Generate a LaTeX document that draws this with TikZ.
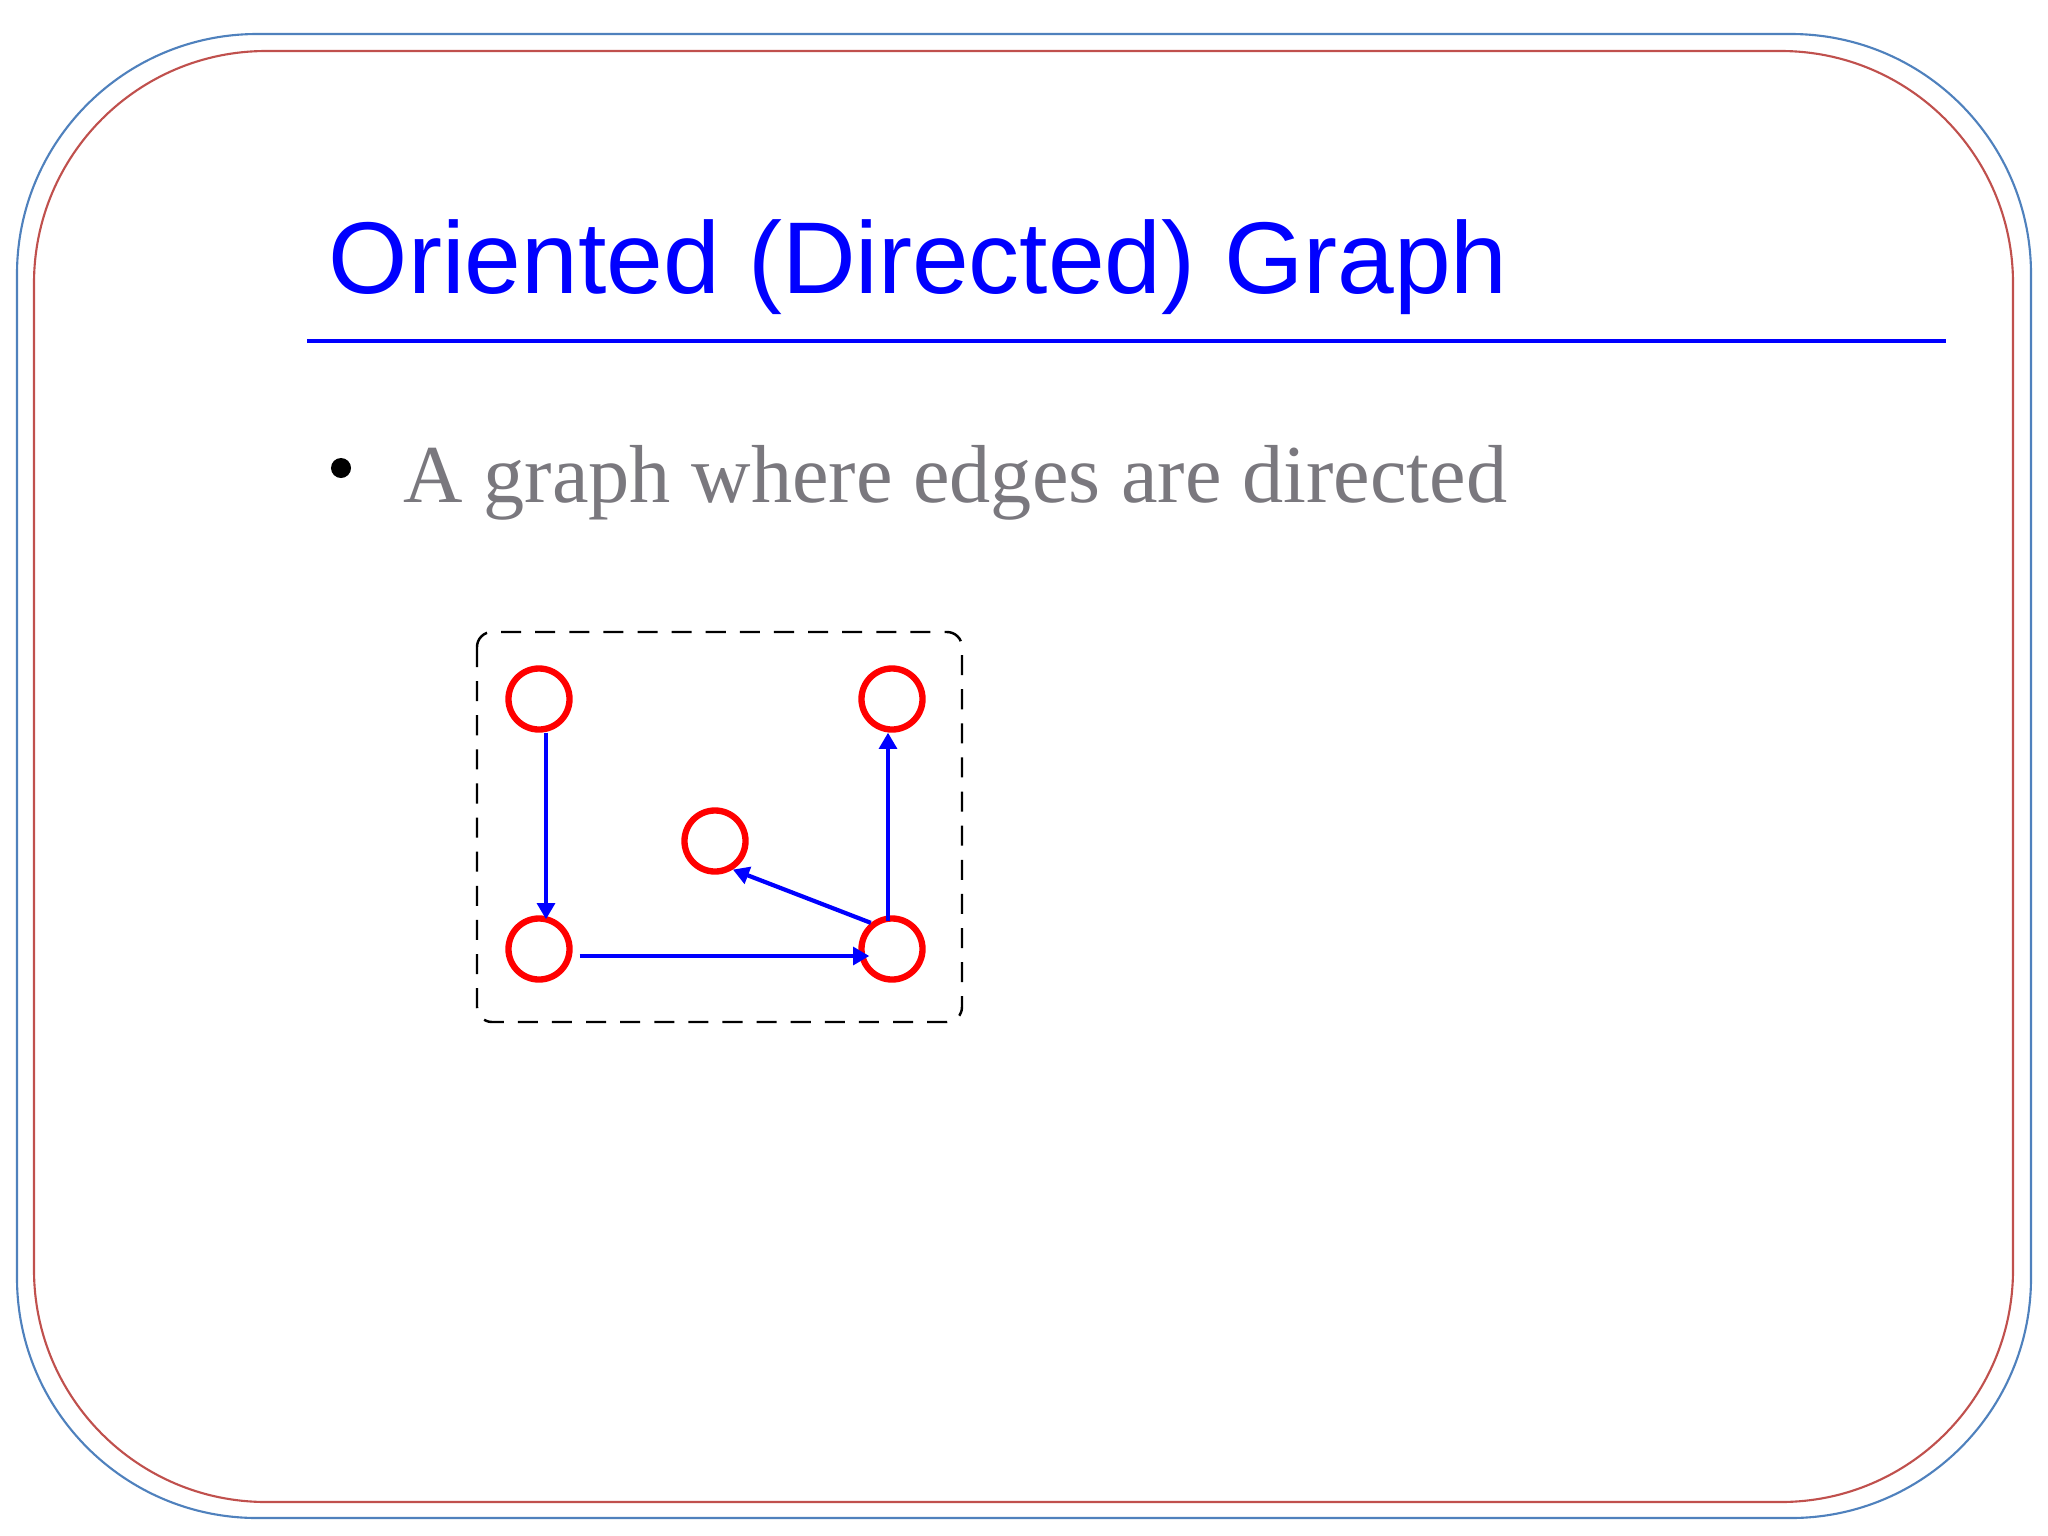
\documentclass[tikz,border=0pt]{standalone}
\usepackage{fontspec}
\setmainfont{Liberation Serif}
\newfontfamily\titlefont{Liberation Sans}
\usetikzlibrary{arrows.meta}
\definecolor{frameblue}{RGB}{79,129,189}
\definecolor{framered}{RGB}{192,80,77}
\definecolor{bodygray}{RGB}{122,120,126}
\tikzset{
  vertex/.style={circle, draw=red, line width=1.8pt, minimum size=0.61cm, inner sep=0pt},
  edgearrow/.style={draw=blue, line width=1.2pt, -{Triangle[length=4.6pt,width=5pt]}},
  framebox/.style={line width=0.6pt},
}
\begin{document}
\begin{tikzpicture}[x=0.01cm, y=-0.01cm]
\useasboundingbox (0,0) rectangle (2048,1536);
\fill[white] (0,0) rectangle (2048,1536);
% frames
\draw[framebox, frameblue, rounded corners=2.4cm] (17,34) rectangle (2031,1518);
\draw[framebox, framered, rounded corners=2.32cm] (34,51) rectangle (2013,1502);
% title
\node[anchor=base west, inner sep=0pt, text=blue, font=\titlefont\fontsize{29}{34}\selectfont] (title) at (328,293) {Oriented (Directed) Graph};
\draw[blue, line width=1pt] (307,341) -- (1946,341);
% bullet
\fill[black] (341,468) circle[radius=0.1cm];
\node[anchor=base west, inner sep=0pt, text=bodygray, font=\fontsize{23.4}{28}\selectfont] (bullet) at (403,502) {A graph where edges are directed};
% dashed box
\draw[black, line width=0.7pt, dash pattern=on 5.7pt off 4pt, rounded corners=0.15cm] (477,632) rectangle (962,1022);
% vertices
\node[vertex] (tl) at (539,699) {};
\node[vertex] (tr) at (892,699) {};
\node[vertex] (mid) at (715,841) {};
\node[vertex] (bl) at (539,949) {};
\node[vertex] (br) at (892,949) {};
% edges
\draw[edgearrow, shorten >=-0.04cm] ([xshift=0.07cm]tl.south) -- ([xshift=0.07cm]bl.north);
\draw[edgearrow, shorten <=0.07cm, shorten >=-0.11cm] ([yshift=-0.07cm]bl.east) -- ([yshift=-0.07cm]br.west);
\draw[edgearrow, shorten <=-0.06cm] ([xshift=-0.04cm]br.north) -- ([xshift=-0.04cm]tr.south);
\draw[edgearrow] (br.129) -- (mid.-58);
\end{tikzpicture}
\end{document}
